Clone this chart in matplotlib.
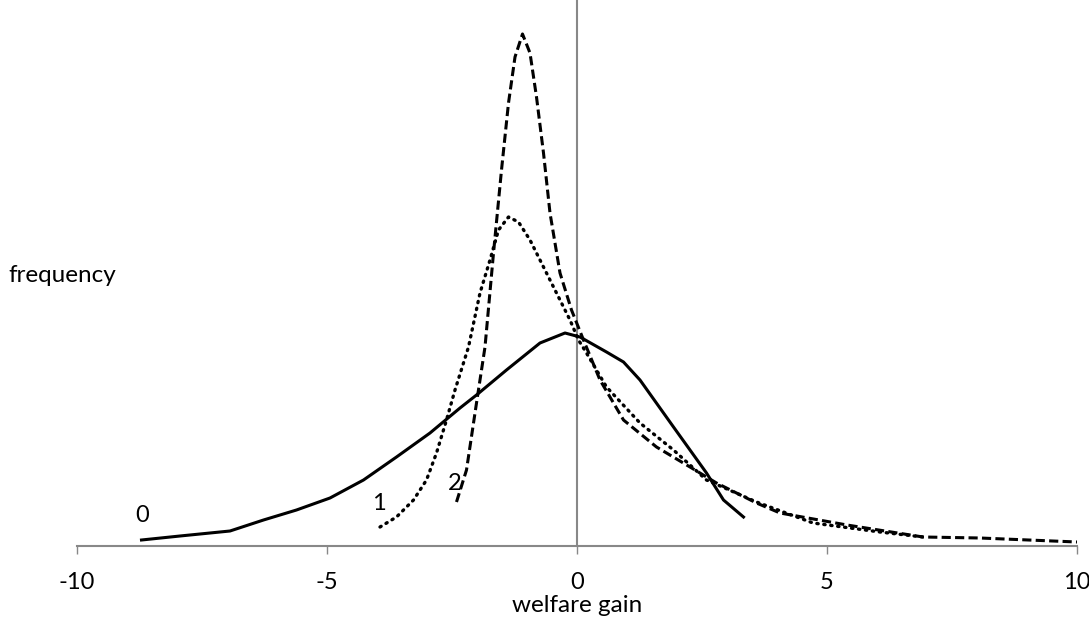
import matplotlib.pyplot as plt

# curve 0 (solid)
x0 = [-8.71, -7.94, -6.94, -6.27, -5.61, -4.94, -4.27, -3.61, -2.94, -2.34, -2.01,
      -1.41, -0.74, -0.24, 0.06, 0.59, 0.93, 1.26, 1.93, 2.59, 2.93, 3.33]
y0 = [6, 10, 15, 26, 36, 48, 66, 89, 113, 138, 151,
      176, 203, 213, 209, 194, 184, 166, 119, 73, 46, 29]

# curve 1 (dotted)
x1 = [-3.94, -3.61, -3.27, -3.01, -2.81, -2.61, -2.44, -2.17, -1.94, -1.74, -1.57,
      -1.37, -1.17, -0.94, -0.67, -0.41, -0.14, 0.03, 0.19, 0.59, 1.26, 1.93,
      2.59, 3.59, 4.72, 6.06, 6.92]
y1 = [19, 29, 46, 66, 93, 126, 156, 199, 253, 286, 316,
      329, 324, 306, 279, 253, 226, 206, 193, 159, 123, 96,
      66, 44, 23, 14, 9]

# curve 2 (dashed)
x2 = [-2.41, -2.21, -2.01, -1.84, -1.67, -1.51, -1.37, -1.24, -1.09, -0.94, -0.81,
      -0.67, -0.54, -0.34, -0.11, 0.13, 0.46, 0.93, 1.59, 2.26, 2.79, 3.59,
      4.06, 5.40, 6.92, 8.06, 10.0]
y2 = [44, 76, 143, 199, 293, 376, 443, 489, 512, 493, 449,
      393, 333, 273, 236, 206, 166, 126, 99, 79, 63, 43,
      33, 21, 9, 8, 4]

xticks = [-10, -5, 0, 5, 10]
xtick_labels = ['-10', '-5', '0', '5', '10']

plt.rcParams['font.family'] = ['Lato', 'DejaVu Sans']

fig = plt.figure(figsize=(10.89, 6.27), dpi=100)
ax = fig.add_axes([77 / 1089, 1 - 546 / 627, 1000 / 1089, 546 / 627])

ax.plot(x0, y0, color='black', lw=2.2, solid_joinstyle='round')
ax.plot(x1, y1, color='black', lw=2.4, linestyle=(0, (0.4, 1.7)), dash_capstyle='round')
ax.plot(x2, y2, color='black', lw=2.2, linestyle=(0, (3, 1.4)), dash_joinstyle='round')

ax.axvline(0, color='#888888', lw=1.5, zorder=0)

ax.set_xlim(-10, 10)
ax.set_ylim(0, 546)
ax.set_xticks(xticks)
ax.set_xticklabels(xtick_labels, fontsize=17)
ax.set_yticks([])
for s in ['top', 'right', 'left']:
    ax.spines[s].set_visible(False)
ax.spines['bottom'].set_color('#888888')
ax.spines['bottom'].set_linewidth(1.5)
ax.tick_params(axis='x', direction='out', length=6, width=1, color='#888888', pad=13)

ax.text(-8.7, 20, '0', fontsize=17, ha='center', va='bottom')
ax.text(-3.96, 32, '1', fontsize=17, ha='center', va='bottom')
ax.text(-2.45, 52, '2', fontsize=17, ha='center', va='bottom')

fig.text(8 / 1089, 1 - 275 / 627, 'frequency', fontsize=17.5, ha='left', va='center')
fig.text(577 / 1089, 1 - 606 / 627, 'welfare gain', fontsize=17.5, ha='center', va='center')

fig.savefig('out.png', dpi=100)
